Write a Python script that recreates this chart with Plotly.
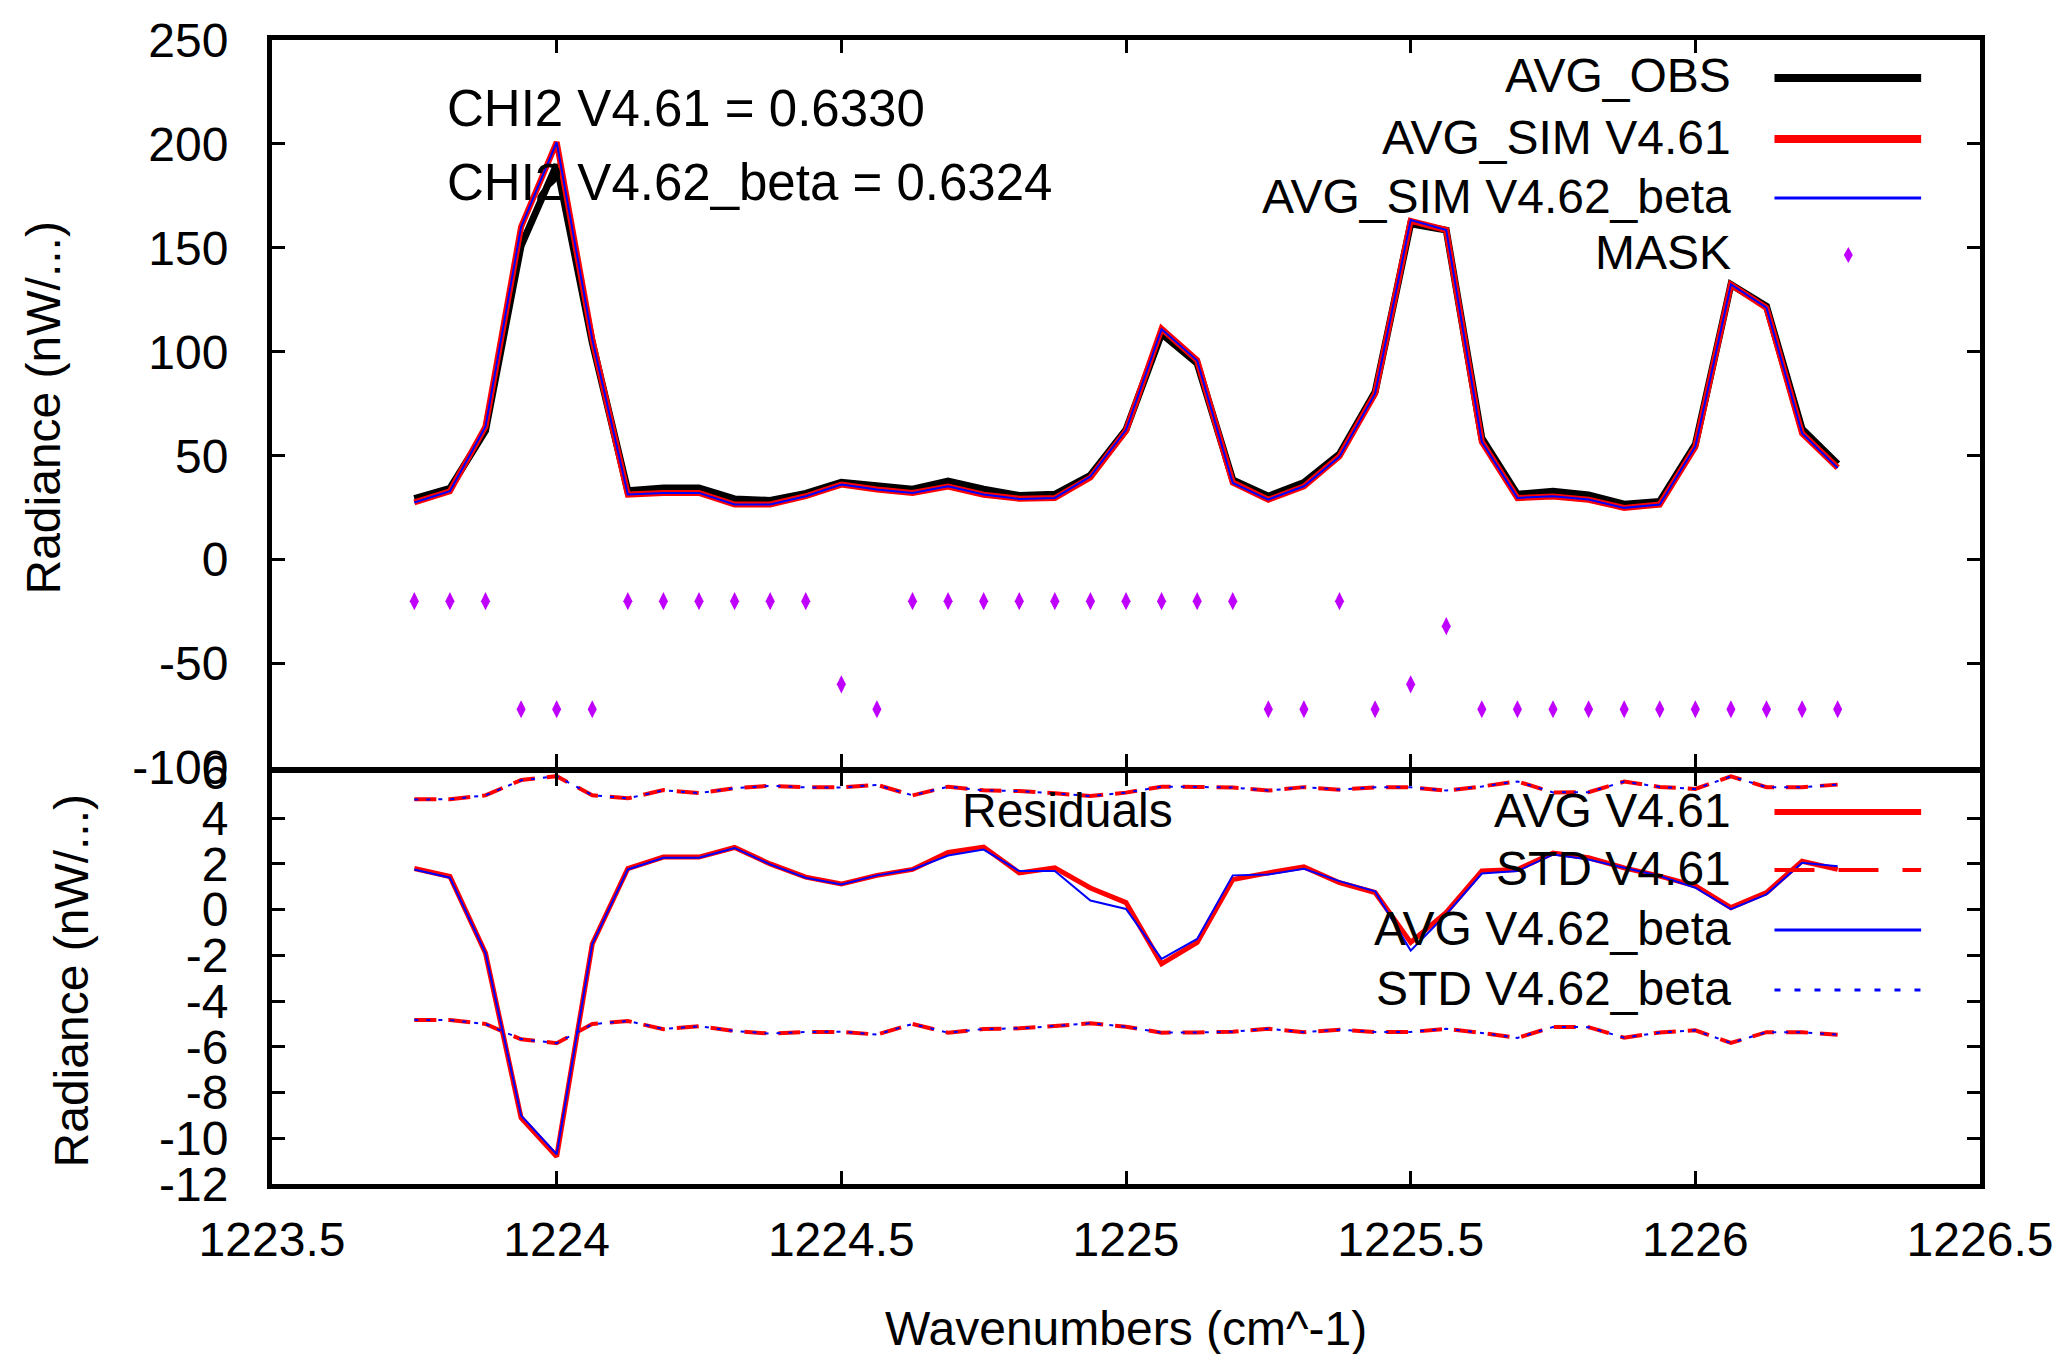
import plotly.graph_objects as go

# ---------------- data ----------------
wavenumber = [1223.75, 1223.8125, 1223.875, 1223.9375, 1224.0, 1224.0625, 1224.125,
              1224.1875, 1224.25, 1224.3125, 1224.375, 1224.4375, 1224.5, 1224.5625,
              1224.625, 1224.6875, 1224.75, 1224.8125, 1224.875, 1224.9375, 1225.0,
              1225.0625, 1225.125, 1225.1875, 1225.25, 1225.3125, 1225.375, 1225.4375,
              1225.5, 1225.5625, 1225.625, 1225.6875, 1225.75, 1225.8125, 1225.875,
              1225.9375, 1226.0, 1226.0625, 1226.125, 1226.1875, 1226.25]

avg_obs = [29.3, 34.3, 62.0, 151.0, 190.0, 104.5, 33.1, 34.4, 34.4, 29.2, 28.5,
           31.9, 37.2, 35.2, 33.9, 37.8, 33.9, 30.9, 31.4, 40.6, 62.5, 108.7,
           94.4, 38.4, 30.5, 37.1, 50.8, 80.6, 161.6, 158.5, 58.4, 31.4, 32.9,
           31.1, 26.7, 28.0, 55.4, 132.4, 121.9, 62.9, 46.0]

avg_sim_v461 = [27.5, 32.9, 64.0, 160.1, 200.9, 106.1, 31.3, 32.1, 32.1, 26.5, 26.5,
                30.5, 36.1, 33.7, 32.1, 35.2, 31.2, 29.3, 29.6, 39.5, 62.0, 111.1,
                95.9, 37.1, 28.8, 35.2, 49.7, 79.8, 163.0, 158.6, 56.6, 29.6, 30.4,
                28.8, 24.9, 26.5, 54.3, 132.3, 121.1, 60.7, 44.2]

avg_sim_v462 = [27.5, 32.9, 64.0, 160.0, 200.8, 106.0, 31.3, 32.1, 32.1, 26.5, 26.5,
                30.5, 36.1, 33.7, 32.1, 35.3, 31.3, 29.2, 29.7, 40.0, 62.3, 110.9,
                95.8, 36.9, 28.9, 35.3, 49.6, 79.8, 163.4, 158.6, 56.7, 29.7, 30.5,
                28.9, 24.9, 26.5, 54.4, 132.4, 121.2, 60.8, 44.1]

mask = [-20, -20, -20, -72, -72, -72, -20, -20, -20, -20, -20, -20, -60, -72,
        -20, -20, -20, -20, -20, -20, -20, -20, -20, -20, -72, -72, -20, -72,
        -60, -32, -72, -72, -72, -72, -72, -72, -72, -72, -72, -72, -72]

res_avg_v461 = [1.80, 1.45, -1.90, -9.10, -10.80, -1.50, 1.80, 2.30, 2.30, 2.72, 2.00,
                1.42, 1.12, 1.50, 1.76, 2.50, 2.74, 1.61, 1.83, 0.95, 0.31, -2.37,
                -1.43, 1.32, 1.61, 1.87, 1.18, 0.75, -1.43, -0.12, 1.69, 1.76, 2.48,
                2.27, 1.83, 1.47, 1.04, 0.09, 0.75, 2.12, 1.76]

res_avg_v462 = [1.76, 1.40, -1.90, -9.00, -10.70, -1.50, 1.76, 2.27, 2.27, 2.70, 1.98,
                1.40, 1.10, 1.50, 1.76, 2.37, 2.63, 1.69, 1.69, 0.40, 0.03, -2.15,
                -1.28, 1.50, 1.54, 1.79, 1.25, 0.80, -1.79, -0.20, 1.58, 1.69, 2.41,
                2.19, 1.83, 1.47, 0.96, 0.02, 0.67, 2.05, 1.90]

res_std_v461 = [4.83, 4.83, 5.00, 5.67, 5.84, 5.00, 4.87, 5.23, 5.10, 5.31, 5.42,
                5.35, 5.35, 5.46, 5.00, 5.38, 5.22, 5.19, 5.09, 4.97, 5.12, 5.38,
                5.37, 5.34, 5.21, 5.36, 5.25, 5.35, 5.35, 5.21, 5.39, 5.61, 5.13,
                5.14, 5.60, 5.37, 5.28, 5.83, 5.36, 5.36, 5.47]

res_std_v462 = [4.82, 4.83, 5.00, 5.66, 5.84, 5.01, 4.87, 5.22, 5.10, 5.31, 5.42,
                5.35, 5.34, 5.46, 5.00, 5.38, 5.22, 5.19, 5.09, 4.97, 5.12, 5.38,
                5.37, 5.34, 5.21, 5.36, 5.25, 5.35, 5.35, 5.21, 5.39, 5.61, 5.13,
                5.14, 5.60, 5.37, 5.28, 5.83, 5.36, 5.36, 5.47]

x_ticks = [1223.5, 1224.0, 1224.5, 1225.0, 1225.5, 1226.0, 1226.5]
x_tick_text = ["1223.5", "1224", "1224.5", "1225", "1225.5", "1226", "1226.5"]
top_y_ticks = [-100, -50, 0, 50, 100, 150, 200, 250]
top_y_text = ["-100", "-50", "0", "50", "100", "150", "200", "250"]
bot_y_ticks = [-12, -10, -8, -6, -4, -2, 0, 2, 4, 6]
bot_y_text = ["-12", "-10", "-8", "-6", "-4", "-2", "0", "2", "4", "6"]

chi2_lines = ["CHI2 V4.61 = 0.6330", "CHI2 V4.62_beta = 0.6324"]

# ---------------- styling ----------------
FONT = "Liberation Sans, Arial, sans-serif"
FS = 48
RED = "#ff0000"
BLUE = "#0000ff"
MAG = "#c000ff"

fig = go.Figure()

# top panel
fig.add_trace(go.Scatter(x=wavenumber, y=avg_obs, mode="lines", name="AVG_OBS",
                         line=dict(color="black", width=7), xaxis="x2", yaxis="y2"))
fig.add_trace(go.Scatter(x=wavenumber, y=avg_sim_v461, mode="lines", name="AVG_SIM V4.61",
                         line=dict(color=RED, width=6), xaxis="x2", yaxis="y2"))
fig.add_trace(go.Scatter(x=wavenumber, y=avg_sim_v462, mode="lines", name="AVG_SIM V4.62_beta",
                         line=dict(color=BLUE, width=2), xaxis="x2", yaxis="y2"))
fig.add_trace(go.Scatter(x=wavenumber, y=mask, mode="markers", name="MASK",
                         marker=dict(symbol="diamond-tall", size=13, color=MAG, line=dict(width=0)),
                         xaxis="x2", yaxis="y2"))

# bottom panel
def pm(vals):
    return vals + [None] + [-v for v in vals]

xx = wavenumber + [None] + wavenumber
fig.add_trace(go.Scatter(x=wavenumber, y=res_avg_v461, mode="lines", name="AVG V4.61",
                         line=dict(color=RED, width=5), xaxis="x", yaxis="y"))
fig.add_trace(go.Scatter(x=xx, y=pm(res_std_v461), mode="lines", name="STD V4.61",
                         line=dict(color=RED, width=4, dash="22px,12px"), xaxis="x", yaxis="y"))
fig.add_trace(go.Scatter(x=wavenumber, y=res_avg_v462, mode="lines", name="AVG V4.62_beta",
                         line=dict(color=BLUE, width=2), xaxis="x", yaxis="y"))
fig.add_trace(go.Scatter(x=xx, y=pm(res_std_v462), mode="lines", name="STD V4.62_beta",
                         line=dict(color=BLUE, width=2, dash="4px,8px"), xaxis="x", yaxis="y"))

axis_common = dict(showline=True, linewidth=5, linecolor="black", mirror="ticks",
                   ticks="inside", ticklen=13, tickwidth=3, tickcolor="black",
                   showgrid=False, zeroline=False,
                   tickfont=dict(family=FONT, size=FS, color="black"))

fig.update_layout(
    width=2065, height=1354,
    margin=dict(l=272, r=81, t=40, b=170),
    paper_bgcolor="white", plot_bgcolor="white",
    showlegend=False,
    font=dict(family=FONT, size=FS, color="black"),
    xaxis=dict(domain=[0, 1], range=[1223.5, 1226.5], tickvals=x_ticks, ticktext=x_tick_text,
               anchor="y", ticklabelstandoff=9, **axis_common),
    xaxis2=dict(domain=[0, 1], range=[1223.5, 1226.5], tickvals=x_ticks, ticktext=x_tick_text,
                anchor="y2", showticklabels=False, matches="x", **axis_common),
    yaxis=dict(domain=[0, 0.3597], range=[-12, 6], tickvals=bot_y_ticks, ticktext=bot_y_text,
               anchor="x", ticklabelstandoff=29, **axis_common),
    yaxis2=dict(domain=[0.3641, 1], range=[-100, 250], tickvals=top_y_ticks, ticktext=top_y_text,
                anchor="x2", ticklabelstandoff=29, **axis_common),
)

# pixel -> paper helpers (plot area x 272..1984, y 40..1184)
def px(X):
    return (X - 272) / 1712.0

def py(Y):
    return (1184 - Y) / 1144.0

ann = []
tfont = dict(family=FONT, size=FS, color="black")
# CHI2 texts
ann.append(dict(text=chi2_lines[0], x=px(445), y=py(108), xanchor="left", yanchor="middle",
                font=dict(family=FONT, size=51, color="black")))
ann.append(dict(text=chi2_lines[1], x=px(445), y=py(182), xanchor="left", yanchor="middle",
                font=dict(family=FONT, size=51, color="black")))
# Residuals label
ann.append(dict(text="Residuals", x=px(1069), y=py(810), xanchor="center", yanchor="middle"))
# axis titles
ann.append(dict(text="Radiance (nW/...)", x=px(42), y=py(408), textangle=-90,
                xanchor="center", yanchor="middle"))
ann.append(dict(text="Radiance (nW/...)", x=px(72), y=py(981), textangle=-90,
                xanchor="center", yanchor="middle"))
ann.append(dict(text="Wavenumbers (cm^-1)", x=px(1128), y=py(1328),
                xanchor="center", yanchor="middle"))

shapes = []
# top legend
top_leg = [("AVG_OBS", 76, dict(color="black", width=8)),
           ("AVG_SIM V4.61", 137, dict(color=RED, width=8)),
           ("AVG_SIM V4.62_beta", 196, dict(color=BLUE, width=3))]
for label, yy, ln in top_leg:
    ann.append(dict(text=label, x=px(1736), y=py(yy), xanchor="right", yanchor="middle"))
    shapes.append(dict(type="line", xref="paper", yref="paper", x0=px(1778), x1=px(1925),
                       y0=py(yy + 2), y1=py(yy + 2), line=ln))
ann.append(dict(text="MASK", x=px(1736), y=py(252), xanchor="right", yanchor="middle"))
mx, my = 1852, 255
shapes.append(dict(type="path", xref="paper", yref="paper",
                   path=f"M {px(mx)},{py(my - 8)} L {px(mx + 4.5)},{py(my)} L {px(mx)},{py(my + 8)} L {px(mx - 4.5)},{py(my)} Z",
                   fillcolor=MAG, line=dict(width=0)))

# bottom legend
bot_leg = [("AVG V4.61", 812, dict(color=RED, width=6)),
           ("STD V4.61", 870, dict(color=RED, width=4, dash="40px,24px")),
           ("AVG V4.62_beta", 930, dict(color=BLUE, width=3)),
           ("STD V4.62_beta", 990, dict(color=BLUE, width=3, dash="6px,14px"))]
for label, yy, ln in bot_leg:
    ann.append(dict(text=label, x=px(1736), y=py(yy - 2), xanchor="right", yanchor="middle"))
    shapes.append(dict(type="line", xref="paper", yref="paper", x0=px(1778), x1=px(1925),
                       y0=py(yy), y1=py(yy), line=ln))

for a in ann:
    a.setdefault("font", tfont)
    a.update(xref="paper", yref="paper", showarrow=False)

fig.update_layout(annotations=ann, shapes=shapes)

fig.write_html("out.html")
